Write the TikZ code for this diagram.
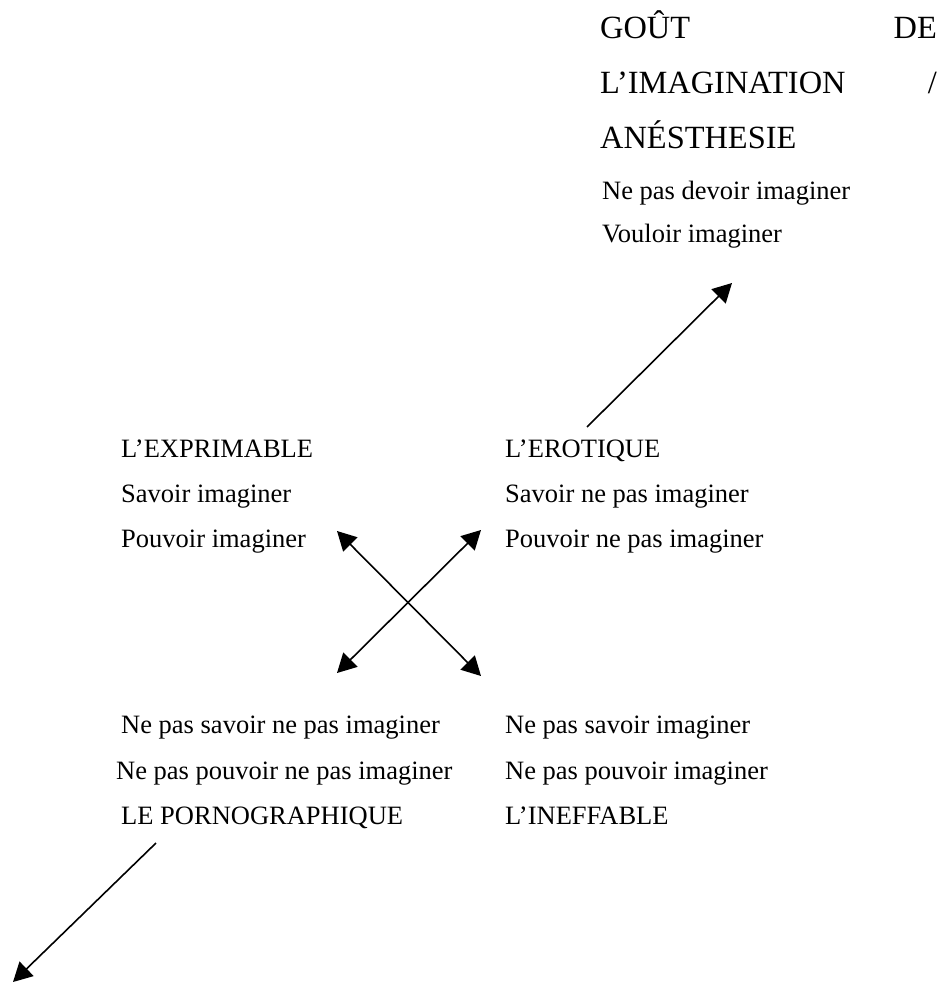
\documentclass[tikz,border=0pt]{standalone}
\usepackage{fontspec}
\setmainfont{Liberation Serif}
\usetikzlibrary{arrows.meta}

\begin{document}
\begin{tikzpicture}[x=1pt,y=-1pt,
    every node/.style={inner sep=0pt,anchor=base west},
    big/.style={font=\fontsize{32.4}{38}\selectfont},
    small/.style={font=\fontsize{26.5}{32}\selectfont},
    arr/.style={line width=1.6pt,-{Triangle[length=19pt,width=20pt]}},
    darr/.style={arr,{Triangle[length=19pt,width=20pt]}-{Triangle[length=19pt,width=20pt]}}]
    \useasboundingbox (0,0) rectangle (947,982);
    % titre en haut
    \node[big] (gout) at (600,38) {GOÛT};
    \node[big,anchor=base east] (de) at (937,38) {DE};
    \node[big] (imag) at (600,93) {L’IMAGINATION};
    \node[big,anchor=base east] (slash) at (937,93) {/};
    \node[big] (anest) at (600,148) {ANÉSTHESIE};
    \node[small] (devoir) at (602,199) {Ne pas devoir imaginer};
    \node[small] (vouloir) at (602,242) {Vouloir imaginer};
    % carre du milieu
    \node[small] (exprim) at (121,457) {L’EXPRIMABLE};
    \node[small] (savoir) at (121,502) {Savoir imaginer};
    \node[small] (pouvoir) at (121,547) {Pouvoir imaginer};
    \node[small] (erot) at (505,457) {L’EROTIQUE};
    \node[small] (savnp) at (505,502) {Savoir ne pas imaginer};
    \node[small] (pounp) at (505,547) {Pouvoir ne pas imaginer};
    \node[small] (nsnp) at (121,733) {Ne pas savoir ne pas imaginer};
    \node[small] (npnp) at (116,779) {Ne pas pouvoir ne pas imaginer};
    \node[small] (porno) at (121,824) {LE PORNOGRAPHIQUE};
    \node[small] (nsi) at (505,733) {Ne pas savoir imaginer};
    \node[small] (npi) at (505,779) {Ne pas pouvoir imaginer};
    \node[small] (ineff) at (505,824) {L’INEFFABLE};
    % bouts des fleches
    \coordinate (eroA) at (587,427);
    \coordinate (eroB) at (732,283);
    \coordinate (xUL) at (337,531);
    \coordinate (xUR) at (481,530);
    \coordinate (xLL) at (337,673);
    \coordinate (xLR) at (481,676);
    \coordinate (porA) at (156,843);
    \coordinate (porB) at (13,982);
    \draw[arr] (eroA) -- (eroB);
    \draw[darr] (xUL) -- (xLR);
    \draw[darr] (xUR) -- (xLL);
    \draw[arr] (porA) -- (porB);
\end{tikzpicture}
\end{document}
